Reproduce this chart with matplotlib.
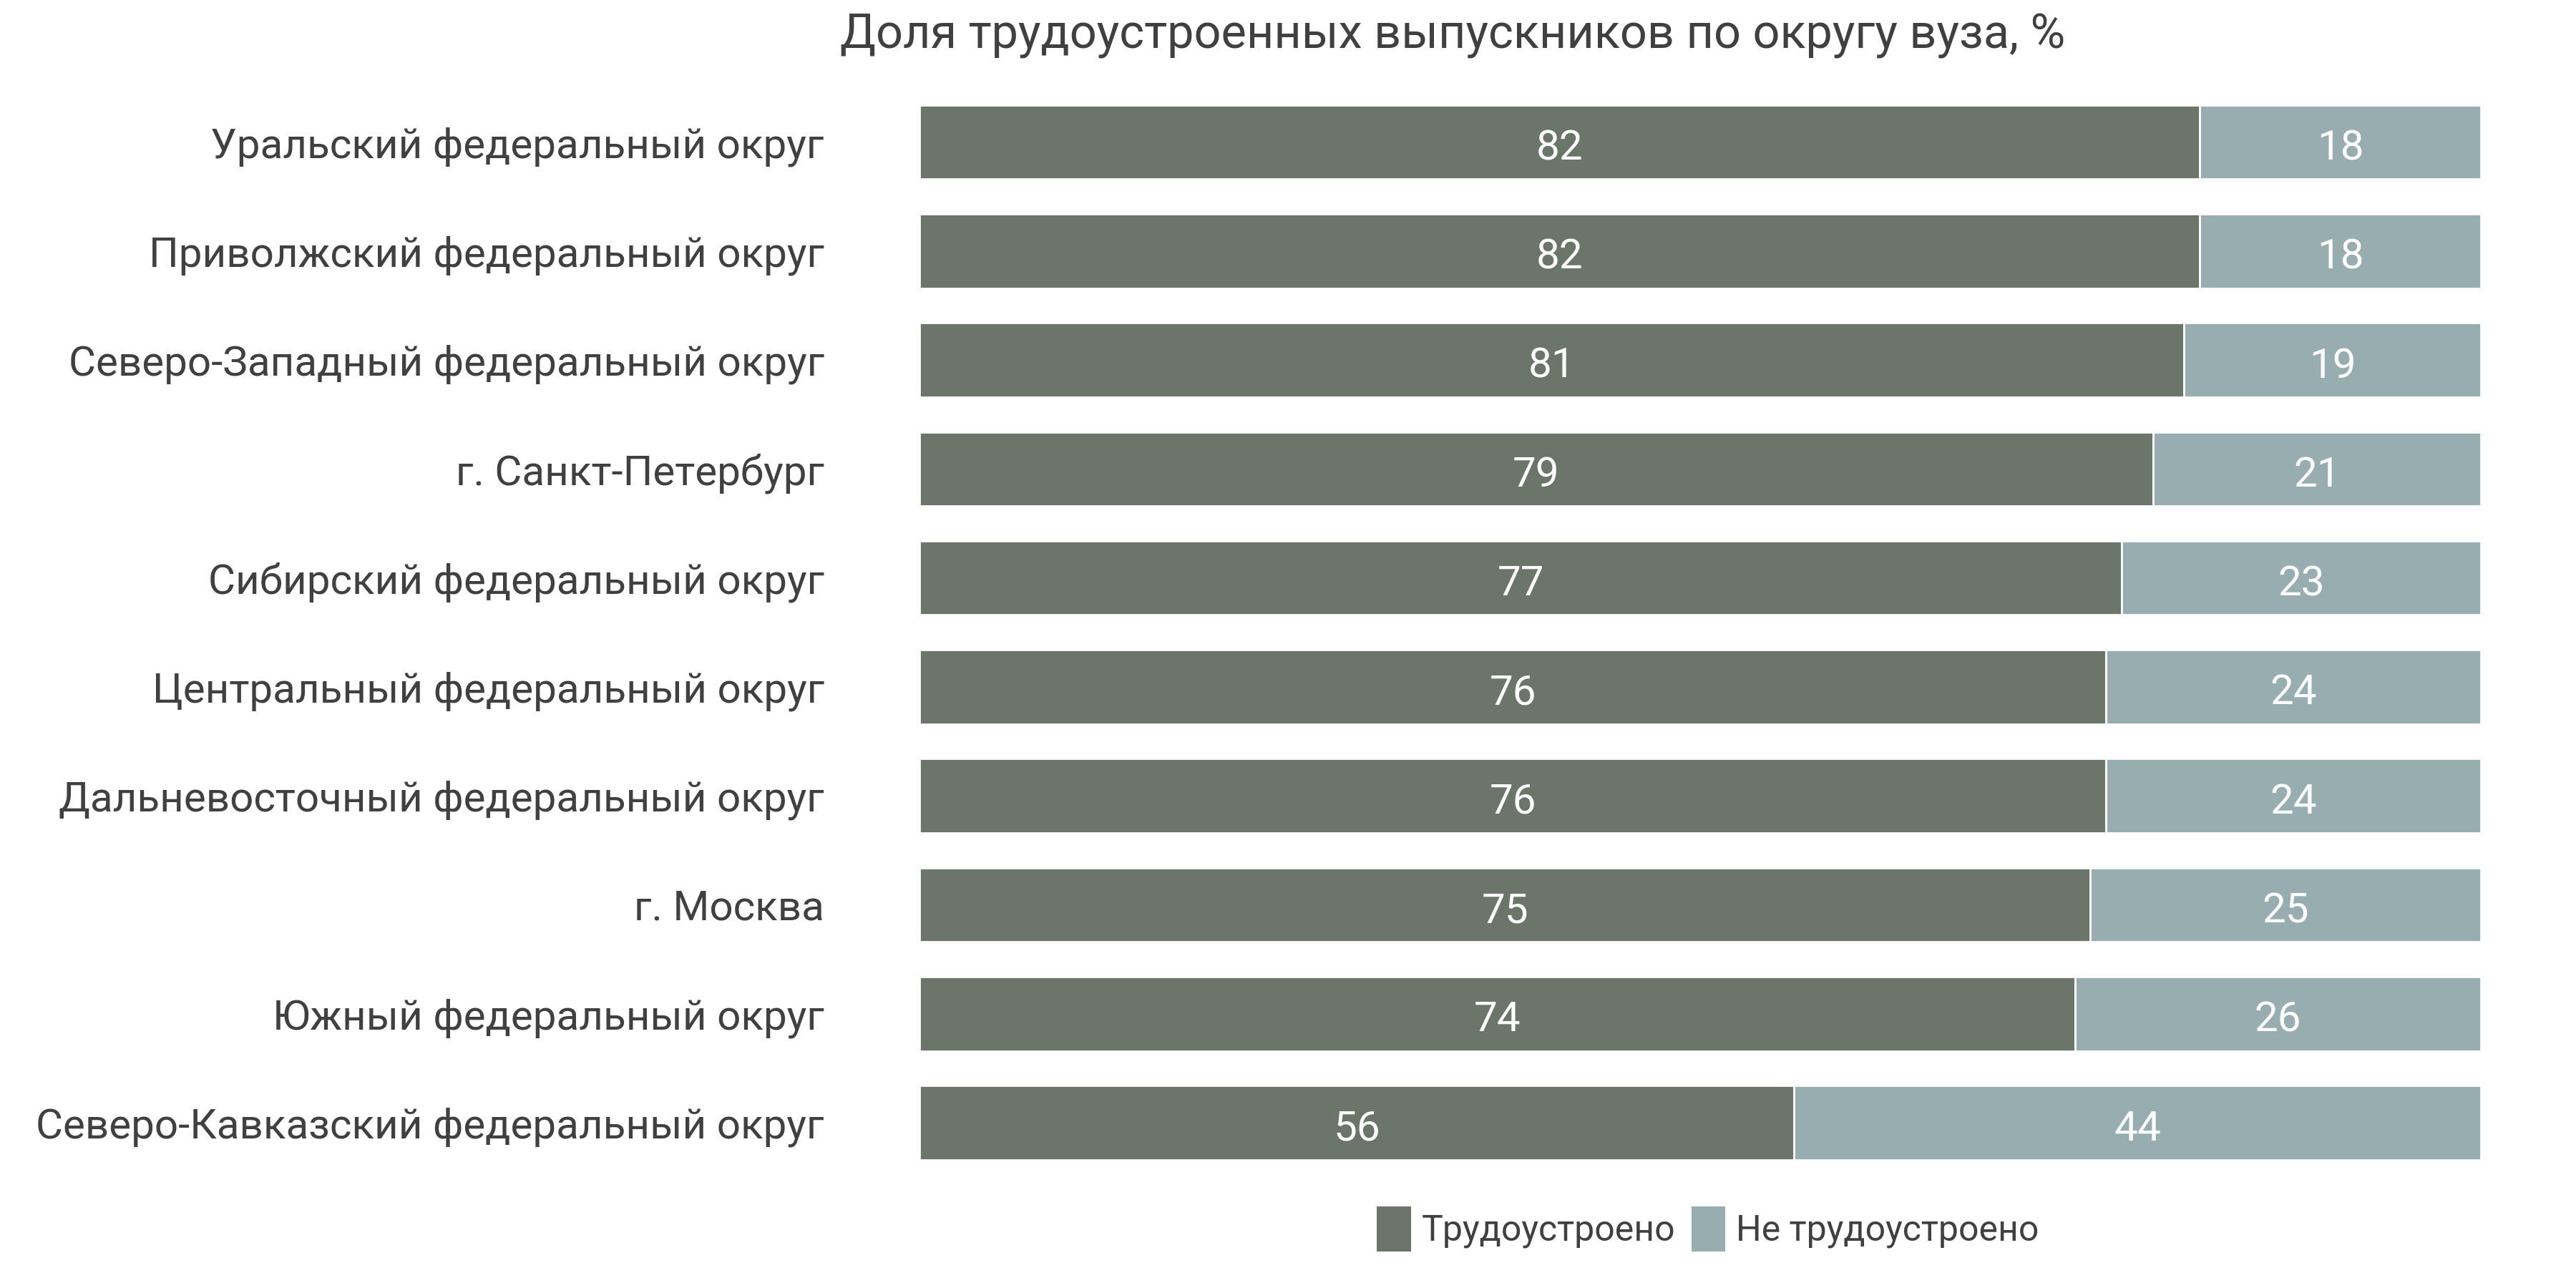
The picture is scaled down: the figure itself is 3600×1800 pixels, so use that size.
import matplotlib
matplotlib.use("Agg")
import matplotlib.pyplot as plt
from matplotlib.patches import Patch

# ----- Data -----
districts = [
    "Уральский федеральный округ",
    "Приволжский федеральный округ",
    "Северо-Западный федеральный округ",
    "г. Санкт-Петербург",
    "Сибирский федеральный округ",
    "Центральный федеральный округ",
    "Дальневосточный федеральный округ",
    "г. Москва",
    "Южный федеральный округ",
    "Северо-Кавказский федеральный округ",
]
employed = [82, 82, 81, 79, 77, 76, 76, 75, 74, 56]
not_employed = [18, 18, 19, 21, 23, 24, 24, 25, 26, 44]

series_names = ["Трудоустроено", "Не трудоустроено"]
title = "Доля трудоустроенных выпускников по округу вуза, %"

DARK = "#6b7569"
LIGHT = "#98adb0"
TEXT = "#404040"

plt.rcParams["font.family"] = ["Roboto", "DejaVu Sans"]

fig = plt.figure(figsize=(36, 18), dpi=100)
ax = fig.add_axes([0.357, 0.086, 0.606, 0.846])

ys = list(range(len(districts)))
h = 0.68
ax.barh(ys, employed, height=h, color=DARK, edgecolor="white", linewidth=2)
ax.barh(ys, not_employed, left=employed, height=h, color=LIGHT,
        edgecolor="white", linewidth=2)

# value labels, slightly below centre like the original
for y, a, b in zip(ys, employed, not_employed):
    ax.text(a / 2, y + 0.02, str(a), ha="center", va="center_baseline",
            color="white", fontsize=42)
    ax.text(a + b / 2, y + 0.02, str(b), ha="center", va="center_baseline",
            color="white", fontsize=42)

ax.set_xlim(0, 100)
ax.set_ylim(len(districts) - 0.5, -0.5)
ax.set_yticks(ys)
ax.set_yticklabels(districts, fontsize=42, color=TEXT)
ax.tick_params(axis="y", length=0, pad=96)
ax.set_xticks([])
for s in ax.spines.values():
    s.set_visible(False)

fig.text(0.564, 0.972, title, ha="center", va="center", fontsize=48, color=TEXT)

handles = [Patch(facecolor=DARK, edgecolor="none"), Patch(facecolor=LIGHT, edgecolor="none")]
fig.legend(handles, series_names, loc="center", bbox_to_anchor=(0.663, 0.046),
           ncol=2, frameon=False, fontsize=36, labelcolor=TEXT,
           handlelength=0.95, handleheight=1.55, handletextpad=0.3, columnspacing=0.45)

fig.savefig("out.png", dpi=100, facecolor="white")
